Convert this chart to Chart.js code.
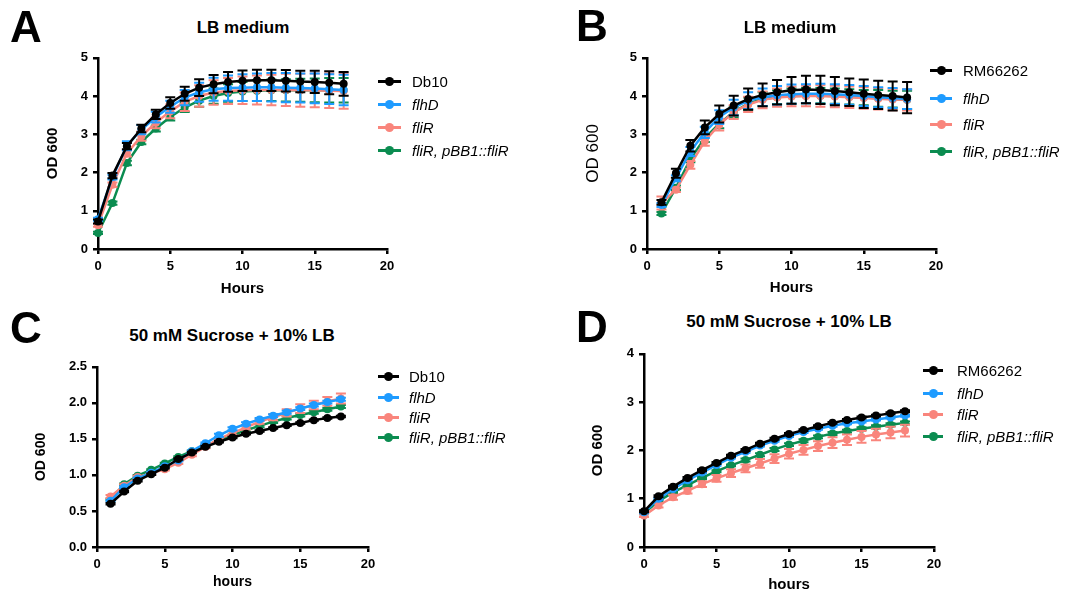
<!DOCTYPE html>
<html>
<head>
<meta charset="utf-8">
<script src="https://cdn.jsdelivr.net/npm/chart.js@4.4.1/dist/chart.umd.min.js"></script>
<style>
  html, body { margin: 0; padding: 0; background: #fff; overflow: hidden; }
  #fig { position: relative; width: 1068px; height: 597px; font-family: Arial, "Liberation Sans", sans-serif; color: #000; }
  canvas { position: absolute; }
  .txt { position: absolute; line-height: 1; white-space: nowrap; transform: translate(-50%, -50%); }
  .letter { font-size: 44px; font-weight: bold; }
  .title { font-size: 17px; font-weight: bold; }
  .leg { position: absolute; font-size: 15px; line-height: 1; white-space: nowrap; }
  .legline { position: absolute; height: 3px; }
  .legdot { position: absolute; width: 9px; height: 9px; border-radius: 50%; }
</style>
</head>
<body>
<div id="fig"></div>
<script>
// ---- data ----
const strainsDb = ['Db10', 'flhD', 'fliR', 'fliR, pBB1::fliR'];
const strainsRM = ['RM66262', 'flhD', 'fliR', 'fliR, pBB1::fliR'];
const italicLabel = [false, true, true, true];
const colors = ['#000000', '#1E9BFF', '#F9857C', '#0B8C50'];

// A: Db10 in LB
const hoursA = [0, 1, 2, 3, 4, 5, 6, 7, 8, 9, 10, 11, 12, 13, 14, 15, 16, 17];
const db10A = [0.72, 1.92, 2.69, 3.15, 3.52, 3.82, 4.06, 4.22, 4.31, 4.37, 4.40, 4.41, 4.41, 4.40, 4.38, 4.37, 4.35, 4.32];
const flhDA = [0.78, 1.88, 2.70, 3.12, 3.45, 3.72, 3.96, 4.10, 4.18, 4.21, 4.22, 4.23, 4.23, 4.22, 4.21, 4.20, 4.18, 4.16];
const fliRA = [0.62, 1.68, 2.50, 2.95, 3.30, 3.60, 3.85, 4.00, 4.09, 4.13, 4.15, 4.16, 4.16, 4.16, 4.15, 4.15, 4.14, 4.13];
const compA = [0.42, 1.20, 2.25, 2.80, 3.15, 3.45, 3.70, 3.88, 4.00, 4.08, 4.12, 4.14, 4.15, 4.15, 4.15, 4.15, 4.15, 4.15];
const db10AErr = [0.05, 0.07, 0.08, 0.10, 0.12, 0.15, 0.18, 0.22, 0.24, 0.26, 0.27, 0.28, 0.28, 0.28, 0.28, 0.29, 0.30, 0.31];
const flhDAErr = [0.04, 0.06, 0.12, 0.12, 0.14, 0.16, 0.20, 0.25, 0.30, 0.33, 0.35, 0.36, 0.37, 0.38, 0.38, 0.39, 0.39, 0.40];
const fliRAErr = [0.04, 0.06, 0.08, 0.12, 0.14, 0.18, 0.24, 0.28, 0.32, 0.34, 0.36, 0.38, 0.40, 0.42, 0.43, 0.44, 0.45, 0.46];
const compAErr = [0.03, 0.04, 0.06, 0.06, 0.08, 0.09, 0.12, 0.16, 0.20, 0.23, 0.25, 0.27, 0.28, 0.29, 0.30, 0.31, 0.32, 0.32];

// B: RM66262 in LB
const hoursB = [1, 2, 3, 4, 5, 6, 7, 8, 9, 10, 11, 12, 13, 14, 15, 16, 17, 18];
const rmB = [1.22, 1.98, 2.70, 3.18, 3.53, 3.75, 3.92, 4.03, 4.10, 4.15, 4.17, 4.16, 4.13, 4.10, 4.06, 4.03, 4.00, 3.96];
const flhDB = [1.15, 1.85, 2.55, 3.05, 3.45, 3.70, 3.88, 3.97, 4.02, 4.05, 4.06, 4.06, 4.05, 4.03, 4.00, 3.97, 3.95, 3.92];
const fliRB = [1.20, 1.55, 2.20, 2.82, 3.25, 3.58, 3.78, 3.90, 3.96, 3.99, 4.00, 4.00, 3.99, 3.97, 3.95, 3.93, 3.91, 3.90];
const compB = [0.93, 1.60, 2.35, 2.90, 3.28, 3.58, 3.80, 3.92, 3.97, 4.00, 4.01, 4.01, 4.00, 3.98, 3.96, 3.94, 3.92, 3.90];
const rmBErr = [0.06, 0.12, 0.15, 0.18, 0.22, 0.26, 0.28, 0.30, 0.32, 0.35, 0.36, 0.37, 0.37, 0.36, 0.37, 0.37, 0.38, 0.41];
const flhDBErr = [0.05, 0.08, 0.12, 0.15, 0.18, 0.20, 0.22, 0.23, 0.24, 0.25, 0.25, 0.26, 0.26, 0.26, 0.26, 0.26, 0.26, 0.26];
const fliRBErr = [0.17, 0.06, 0.10, 0.12, 0.15, 0.18, 0.20, 0.22, 0.24, 0.26, 0.27, 0.28, 0.28, 0.28, 0.28, 0.28, 0.28, 0.28];
const compBErr = [0.04, 0.06, 0.08, 0.10, 0.12, 0.14, 0.16, 0.18, 0.18, 0.20, 0.20, 0.20, 0.20, 0.20, 0.20, 0.22, 0.22, 0.24];

// C: Db10 in sucrose
const hoursC = [1, 2, 3, 4, 5, 6, 7, 8, 9, 10, 11, 12, 13, 14, 15, 16, 17, 18];
const db10C = [0.60, 0.77, 0.92, 1.01, 1.10, 1.22, 1.31, 1.39, 1.46, 1.52, 1.57, 1.61, 1.65, 1.69, 1.72, 1.76, 1.79, 1.81];
const flhDC = [0.64, 0.83, 0.95, 1.03, 1.12, 1.20, 1.33, 1.44, 1.55, 1.64, 1.71, 1.77, 1.82, 1.87, 1.92, 1.97, 2.01, 2.05];
const fliRC = [0.70, 0.85, 0.97, 1.02, 1.08, 1.17, 1.28, 1.39, 1.50, 1.58, 1.66, 1.74, 1.80, 1.86, 1.92, 1.97, 2.02, 2.06];
const compC = [0.66, 0.87, 0.99, 1.07, 1.16, 1.25, 1.33, 1.41, 1.48, 1.55, 1.62, 1.68, 1.74, 1.79, 1.83, 1.87, 1.91, 1.95];
const db10CErr = [0.01, 0.01, 0.01, 0.01, 0.01, 0.01, 0.01, 0.01, 0.01, 0.01, 0.01, 0.01, 0.01, 0.01, 0.01, 0.01, 0.01, 0.01];
const flhDCErr = [0.01, 0.01, 0.01, 0.01, 0.01, 0.01, 0.01, 0.01, 0.02, 0.02, 0.02, 0.02, 0.02, 0.02, 0.02, 0.02, 0.02, 0.02];
const fliRCErr = [0.02, 0.02, 0.02, 0.02, 0.02, 0.02, 0.02, 0.02, 0.02, 0.03, 0.03, 0.03, 0.04, 0.05, 0.06, 0.06, 0.06, 0.07];
const compCErr = [0.01, 0.01, 0.01, 0.01, 0.01, 0.01, 0.01, 0.01, 0.01, 0.01, 0.02, 0.02, 0.02, 0.02, 0.02, 0.02, 0.02, 0.02];

// D: RM66262 in sucrose
const hoursD = [0, 1, 2, 3, 4, 5, 6, 7, 8, 9, 10, 11, 12, 13, 14, 15, 16, 17, 18];
const rmD = [0.74, 1.05, 1.25, 1.43, 1.59, 1.74, 1.89, 2.01, 2.14, 2.24, 2.34, 2.42, 2.50, 2.57, 2.63, 2.68, 2.72, 2.77, 2.81];
const flhDD = [0.72, 1.00, 1.20, 1.38, 1.54, 1.70, 1.85, 1.97, 2.10, 2.20, 2.30, 2.38, 2.45, 2.51, 2.56, 2.60, 2.64, 2.68, 2.72];
const fliRD = [0.65, 0.86, 1.03, 1.16, 1.30, 1.42, 1.53, 1.63, 1.73, 1.83, 1.93, 2.01, 2.09, 2.16, 2.22, 2.28, 2.33, 2.37, 2.41];
const compD = [0.70, 0.95, 1.13, 1.28, 1.43, 1.57, 1.69, 1.80, 1.91, 2.02, 2.12, 2.20, 2.28, 2.35, 2.40, 2.45, 2.49, 2.53, 2.57];
const rmDErr = [0.02, 0.02, 0.02, 0.02, 0.02, 0.02, 0.02, 0.02, 0.02, 0.02, 0.02, 0.02, 0.02, 0.02, 0.02, 0.02, 0.02, 0.02, 0.02];
const flhDDErr = [0.02, 0.02, 0.02, 0.02, 0.02, 0.02, 0.02, 0.02, 0.02, 0.02, 0.02, 0.02, 0.02, 0.02, 0.02, 0.02, 0.02, 0.02, 0.02];
const fliRDErr = [0.03, 0.04, 0.05, 0.05, 0.06, 0.07, 0.08, 0.08, 0.09, 0.09, 0.10, 0.10, 0.10, 0.11, 0.11, 0.12, 0.12, 0.12, 0.12];
const compDErr = [0.02, 0.02, 0.02, 0.02, 0.02, 0.02, 0.02, 0.03, 0.03, 0.03, 0.03, 0.03, 0.03, 0.03, 0.03, 0.03, 0.03, 0.03, 0.03];

Chart.defaults.font.family = 'Arial, "Liberation Sans", sans-serif';
Chart.defaults.color = '#000';

const fig = document.getElementById('fig');

// draws the SEM bars right after each dataset so stacking follows the lines
const errorBars = {
    id: 'errorBars',
    afterDatasetDraw(chart, args) {
        const ds = chart.data.datasets[args.index];
        if (!ds.errors) return;
        const ys = chart.scales.y;
        const c = chart.ctx;
        c.save();
        c.strokeStyle = ds.borderColor;
        c.lineWidth = 2;
        args.meta.data.forEach((pt, i) => {
            const e = ds.errors[i];
            const v = ds.data[i].y;
            const top = ys.getPixelForValue(v + e);
            const bot = ys.getPixelForValue(v - e);
            c.beginPath();
            c.moveTo(pt.x, top); c.lineTo(pt.x, bot);
            c.moveTo(pt.x - 5, top); c.lineTo(pt.x + 5, top);
            c.moveTo(pt.x - 5, bot); c.lineTo(pt.x + 5, bot);
            c.stroke();
        });
        c.restore();
    }
};

function addText(cls, text, x, y, extra) {
    const d = document.createElement('div');
    d.className = 'txt ' + cls;
    d.textContent = text;
    d.style.left = x + 'px';
    d.style.top = y + 'px';
    if (extra) Object.assign(d.style, extra);
    fig.appendChild(d);
}

function makePanel(p) {
    const padTop = 12, padRight = 16;
    const cv = document.createElement('canvas');
    const w = p.yW + (p.r - p.l) + padRight;
    const h = padTop + (p.b - p.t) + p.xH;
    cv.width = w; cv.height = h;
    cv.style.left = (p.l - p.yW) + 'px';
    cv.style.top = (p.t - padTop) + 'px';
    cv.style.width = w + 'px'; cv.style.height = h + 'px';
    fig.appendChild(cv);

    const datasets = p.series.map((vals, k) => ({
        label: p.labels[k],
        data: vals.map((v, i) => ({ x: p.hours[i], y: v })),
        errors: p.errors[k],
        borderColor: colors[k],
        backgroundColor: colors[k],
        borderWidth: 2.5,
        pointRadius: 4,
        pointBorderWidth: 0,
        tension: 0,
        clip: false
    }));

    const axisGrid = { display: true, drawOnChartArea: false, drawTicks: true, tickLength: 5, color: '#000', lineWidth: 2.5 };
    const tickFont = { size: 13, weight: 'bold' };

    new Chart(cv, {
        type: 'line',
        data: { datasets: datasets },
        plugins: [errorBars],
        options: {
            responsive: false,
            animation: false,
            events: [],
            layout: { padding: { top: padTop, right: padRight, left: 0, bottom: 0 } },
            plugins: { legend: { display: false }, tooltip: { enabled: false } },
            scales: {
                x: {
                    type: 'linear', min: 0, max: 20,
                    grid: axisGrid,
                    border: { display: true, color: '#000', width: 2.5 },
                    ticks: { stepSize: 5, font: tickFont, padding: 5, maxRotation: 0 },
                    title: { display: true, text: p.xTitle, font: { size: p.xTitleSize, weight: 'bold' }, padding: { top: 4, bottom: 4 } },
                    afterFit: (s) => { s.height = p.xH; }
                },
                y: {
                    type: 'linear', min: 0, max: p.yMax,
                    grid: axisGrid,
                    border: { display: true, color: '#000', width: 2.5 },
                    ticks: { stepSize: p.yStep, font: tickFont, padding: 5, callback: p.yFmt },
                    title: { display: true, text: 'OD 600', font: { size: p.yTitleSize, weight: p.yTitleWeight }, padding: { top: 4, bottom: 4 } },
                    afterFit: (s) => { s.width = p.yW; }
                }
            }
        }
    });

    addText('letter', p.letter, p.letterPos[0], p.letterPos[1]);
    addText('title', p.title, p.titlePos[0], p.titlePos[1]);

    // legend
    p.labels.forEach((lab, k) => {
        const y = p.leg.rows[k];
        const ln = document.createElement('div');
        ln.className = 'legline';
        ln.style.left = p.leg.x1 + 'px';
        ln.style.top = (y - 1.5) + 'px';
        ln.style.width = (p.leg.x2 - p.leg.x1) + 'px';
        ln.style.background = colors[k];
        fig.appendChild(ln);
        const dot = document.createElement('div');
        dot.className = 'legdot';
        dot.style.left = ((p.leg.x1 + p.leg.x2) / 2 - 4.5) + 'px';
        dot.style.top = (y - 4.5) + 'px';
        dot.style.background = colors[k];
        fig.appendChild(dot);
        const t = document.createElement('div');
        t.className = 'leg';
        t.textContent = lab;
        t.style.left = p.leg.tx + 'px';
        t.style.top = (y - 7.5) + 'px';
        if (italicLabel[k]) t.style.fontStyle = 'italic';
        fig.appendChild(t);
    });
}

makePanel({
    letter: 'A', letterPos: [26, 27], title: 'LB medium', titlePos: [243, 27],
    l: 98, r: 387, t: 57, b: 249, yW: 58, xH: 53,
    yMax: 5, yStep: 1, yFmt: (v) => v, yTitleSize: 15, yTitleWeight: 'bold',
    xTitle: 'Hours', xTitleSize: 15,
    hours: hoursA, labels: strainsDb,
    series: [db10A, flhDA, fliRA, compA], errors: [db10AErr, flhDAErr, fliRAErr, compAErr],
    leg: { x1: 378, x2: 401, tx: 412, rows: [81, 104, 127, 150] }
});

makePanel({
    letter: 'B', letterPos: [592, 26], title: 'LB medium', titlePos: [790, 27],
    l: 647, r: 936, t: 57, b: 249, yW: 68, xH: 52,
    yMax: 5, yStep: 1, yFmt: (v) => v, yTitleSize: 17, yTitleWeight: 'normal',
    xTitle: 'Hours', xTitleSize: 15,
    hours: hoursB, labels: strainsRM,
    series: [rmB, flhDB, fliRB, compB], errors: [rmBErr, flhDBErr, fliRBErr, compBErr],
    leg: { x1: 930, x2: 952, tx: 963, rows: [70, 98, 124, 151] }
});

makePanel({
    letter: 'C', letterPos: [26, 328], title: '50 mM Sucrose + 10% LB', titlePos: [232, 335],
    l: 97, r: 368, t: 366, b: 547, yW: 68, xH: 48,
    yMax: 2.5, yStep: 0.5, yFmt: (v) => Number(v).toFixed(1), yTitleSize: 14, yTitleWeight: 'bold',
    xTitle: 'hours', xTitleSize: 14,
    hours: hoursC, labels: strainsDb,
    series: [db10C, flhDC, fliRC, compC], errors: [db10CErr, flhDCErr, fliRCErr, compCErr],
    leg: { x1: 378, x2: 399, tx: 409, rows: [376, 397, 417, 437] }
});

makePanel({
    letter: 'D', letterPos: [592, 327], title: '50 mM Sucrose + 10% LB', titlePos: [789, 321],
    l: 644, r: 934, t: 353, b: 547, yW: 59, xH: 51,
    yMax: 4, yStep: 1, yFmt: (v) => v, yTitleSize: 15, yTitleWeight: 'bold',
    xTitle: 'hours', xTitleSize: 15,
    hours: hoursD, labels: strainsRM,
    series: [rmD, flhDD, fliRD, compD], errors: [rmDErr, flhDDErr, fliRDErr, compDErr],
    leg: { x1: 923, x2: 943, tx: 957, rows: [370, 393, 414, 436] }
});
</script>
</body>
</html>
